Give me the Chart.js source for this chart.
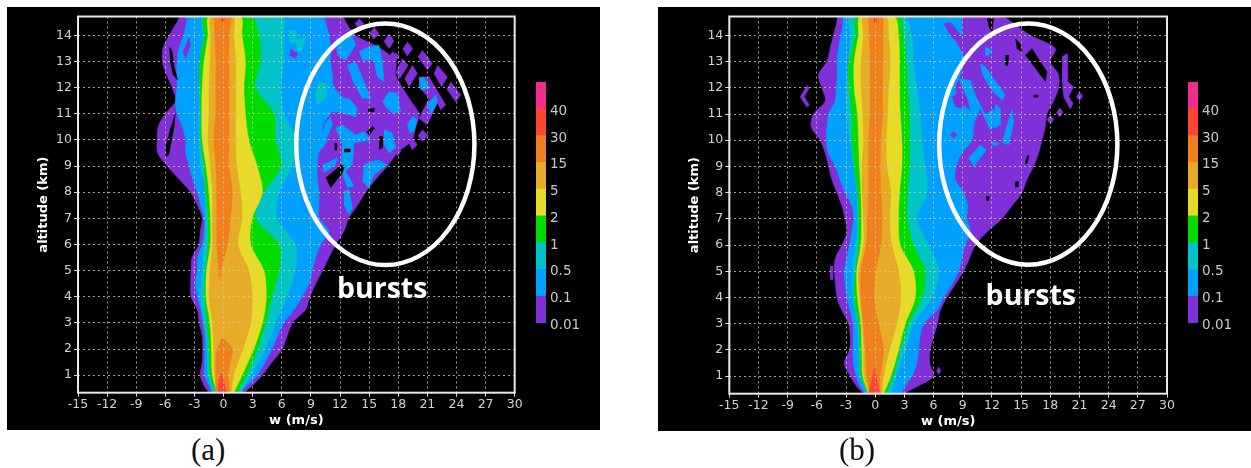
<!DOCTYPE html>
<html>
<head>
<meta charset="utf-8">
<script src="https://cdn.jsdelivr.net/npm/chart.js@4"></script>
<style>
  html, body { margin: 0; background: #fff; width: 1251px; height: 468px; overflow: hidden; }
  canvas { position: absolute; filter: blur(0.4px); }
  #panelA, #panelB { background: #000; }
  .caption { position: absolute; top: 432px; font: 31px/36px "Liberation Serif", serif; color: #111; }
</style>
</head>
<body>
<canvas id="panelA" width="593" height="423" style="left:7px;top:7px"></canvas>
<canvas id="panelB" width="593" height="424" style="left:658px;top:7px"></canvas>
<canvas id="keyA" width="60" height="265" style="left:536px;top:70px"></canvas>
<canvas id="keyB" width="60" height="265" style="left:1188px;top:70px"></canvas>
<div class="caption" style="left:191px">(a)</div>
<div class="caption" style="left:839px">(b)</div>
<script>
const xTicksStep = 3;
const altTicks = [1, 2, 3, 4, 5, 6, 7, 8, 9, 10, 11, 12, 13, 14];
const keyLabels = ['0.01', '0.1', '0.5', '1', '2', '5', '15', '30', '40'];
const keyColors = ['#7f30d8', '#00a0ff', '#00c4c8', '#00dc00', '#e6dc28', '#e6ac28', '#f0801e', '#fa4632', '#f02d8c'];
const [purple, blue, teal, green, yellow, amber, orange, red] = keyColors;

// altitude rows (km) for the outer bands and for the inner bands
const outerAlts = [0.33, 0.6, 1, 1.5, 2, 2.5, 3, 3.5, 4, 4.5, 5, 5.5, 6, 6.5, 7, 7.5, 8, 8.5, 9, 9.5, 10, 10.5, 11, 11.5, 12, 12.5, 13, 13.5, 14, 14.5, 14.72];
const coreAlts = [0.33, 1, 2, 3, 4, 5, 6, 7, 8, 9, 10, 11, 12, 13, 14, 14.72];

// panel (a) band edges, m/s
const aPurpleLeft = [-1.5, -2, -2.4, -2.2, -2.15, -2.2, -2.5, -2.7, -3.35, -3.4, -3.35, -3.25, -2.55, -2.4, -2.2, -2.7, -3.4, -4.6, -5.8, -6.8, -6.85, -6.75, -6, -4.95, -5.3, -5.9, -6.3, -6.25, -5.6, -4.8, -4.4];
const aPurpleRight = [2.1, 2.95, 4, 5, 6.05, 6.55, 7.1, 8.45, 8.9, 9.5, 10.2, 10.85, 11.55, 12.4, 12.9, 13.8, 14.65, 15.7, 16.9, 17.9, 19.45, 19.8, 20.14, 19.28, 18.42, 17.74, 17.74, 16.19, 13.61, 12.6, 12.24];
const aBlueLeft = [-1.15, -1.5, -1.95, -1.95, -1.95, -1.95, -2.15, -2.35, -2.7, -2.9, -2.7, -2.7, -2.2, -2, -2, -2.35, -2.7, -3.2, -3.55, -3.9, -3.9, -4.25, -4.8, -4.95, -4.8, -4.8, -4.8, -4.6, -4.1, -3.8, -3.75];
const aBlueRight = [1.6, 2.4, 3.5, 4.3, 5, 5.55, 6.2, 7.25, 8.1, 8.8, 9.14, 9.49, 10, 10.86, 9.83, 9.83, 9.83, 9.66, 9.66, 9.83, 10.69, 10.18, 11.03, 12.41, 11.38, 11.2, 11.03, 11.03, 10.86, 10.5, 10.35];
const aTealLeft = [-1, -1.6, -1.7, -1.95, -2.35, -2.2, -1.95, -1.85, -1.9, -2.35, -2.55, -2.55, -2.5, -2.35, -2.1, -2];
const aTealRight = [1.8, 2.8, 4.3, 5.35, 6.55, 7.4, 7.4, 5.5, 5.7, 7.1, 7.5, 6.2, 5.9, 6.2, 6.2, 6];
const aGreenLeft = [-0.8, -1.4, -1.5, -1.7, -1.95, -1.85, -1.6, -1.6, -1.85, -2, -2.35, -2.35, -2.45, -2.45, -2, -1.95];
const aGreenRight = [1.4, 2.35, 3.5, 4.35, 5, 5.7, 5.7, 3.3, 4.15, 5.9, 5.35, 5.2, 3.3, 3.8, 3.65, 2.8];
const aYellowLeft = [-0.65, -1.15, -1.25, -1.4, -1.8, -1.75, -1.35, -1.35, -1.5, -1.8, -2.2, -2.25, -2.2, -2, -1.6, -1.5];
const aYellowRight = [1.05, 1.9, 3.1, 4, 4.4, 4.15, 2.8, 2.95, 4, 3.45, 2.6, 2.25, 2.1, 2.25, 1.9, 1.75];
const aAmberLeft = [-0.6, -0.95, -1, -1.15, -1.5, -1.4, -1.15, -1.15, -1.15, -1.35, -1.6, -1.5, -1.5, -1.4, -1.35, -1.25];
const aAmberRight = [0.8, 1.05, 2, 2.8, 2.95, 2.6, 1.5, 1.9, 1.75, 1.35, 1.25, 1.25, 1.25, 1.25, 1.05, 1];
const aOrangeUpAlts = [4.75, 5, 6, 7, 8, 9, 10, 11, 12, 13, 14, 14.72];
const aOrangeUpLeft = [-0.45, -0.5, -0.7, -0.7, -0.7, -0.8, -1, -0.8, -0.8, -0.8, -0.9, -0.8];
const aOrangeUpRight = [-0.35, -0.3, 0.4, 0.7, 0.9, 0.55, 0.55, 0.55, 0.55, 0.55, 0.55, 0.7];
const aOrangeLowAlts = [0.33, 1, 1.5, 2, 2.4];
const aOrangeLowLeft = [-0.8, -0.8, -0.8, -0.65, -0.15];
const aOrangeLowRight = [0.65, 0.5, 0.7, 0.9, -0.05];
const aRedLowAlts = [0.33, 0.6, 1.05];
const aRedLowLeft = [-0.58, -0.55, -0.3];
const aRedLowRight = [0.3, 0.15, -0.25];
const aRedTopAlts = [14.5, 14.72];
const aRedTopLeft = [-0.15, -0.15];
const aRedTopRight = [0.05, 0.05];

// panel (a) burst patches, [m/s, km] outlines
const aTealSpots = [
  [[6.74, 14.19], [7.43, 14.19], [7.6, 13.75], [6.91, 13.68]],
  [[7.43, 13.81], [8.46, 13.94], [8.11, 13.43], [7.6, 13.43]],
  [[9.83, 12.22], [10.69, 12.1], [10.52, 11.59], [9.66, 11.34], [9.49, 11.72]]
];
const aPurpleSpots = [
  [[6.91, 13.49], [7.6, 13.3], [7.43, 13.11], [6.84, 13.24]],
  [[-3.57, 13.94], [-3.4, 13.62], [-3.92, 13.11], [-4.19, 13.37]],
  [[13.96, 14.63], [14.47, 14.44], [13.96, 14.23], [13.51, 14.44]],
  [[15.5, 14.32], [16.02, 14.06], [15.5, 13.85], [15.02, 14.06]],
  [[17.05, 14.06], [17.56, 13.78], [17.05, 13.49], [16.53, 13.78]],
  [[18.94, 13.75], [19.49, 13.49], [18.94, 13.21], [18.46, 13.49]],
  [[20.48, 13.43], [21.52, 12.92], [21, 12.67], [20.04, 13.18]],
  [[22.03, 12.86], [23.06, 12.41], [22.48, 12.03], [21.69, 12.54]],
  [[23.41, 12.22], [24.44, 11.72], [23.92, 11.46], [23, 11.95]],
  [[19.45, 12.86], [19.97, 12.54], [19.11, 12.03], [18.66, 12.35]],
  [[20.48, 10.39], [21.07, 10.17], [20.48, 9.94], [20.04, 10.17]],
  [[20.14, 12.41], [21.17, 12.41], [22.89, 11.34], [22.37, 11.15], [22.03, 11.4], [21, 10.58], [20.14, 10.83], [21.17, 11.59], [20.14, 12.03]],
  [[18.42, 13.11], [19.01, 12.86], [18.18, 12.35], [17.74, 12.6]],
  [[17.39, 13.37], [18.08, 13.24], [17.74, 12.99], [17.05, 13.18]],
  [[19.45, 10.07], [19.97, 9.81], [19.45, 9.62], [19.11, 9.88]],
  [[18.08, 9.81], [18.25, 9.56], [17.91, 9.37], [17.63, 9.62]]
];
const aBlueSpots = [
  [[12.75, 12.86], [13.61, 12.99], [14.47, 12.22], [15.16, 11.59], [14.3, 11.59], [13.27, 12.29]],
  [[13.96, 13.37], [14.99, 13.56], [16.02, 13.62], [16.36, 12.99], [16.53, 12.22], [15.85, 12.41], [15.5, 13.05], [14.3, 13.05]],
  [[16.36, 11.46], [17.05, 11.84], [17.91, 11.78], [18.25, 11.08], [17.39, 11.02], [16.7, 11.27]],
  [[18.94, 10.58], [19.45, 10.89], [19.97, 10.77], [19.63, 10.32], [19.11, 10.26]],
  [[21, 11.34], [21.86, 11.72], [22.03, 11.46], [21.34, 10.96]],
  [[20.14, 12.35], [20.66, 12.41], [21.17, 11.97], [20.31, 11.91]],
  [[10.35, 10.58], [11.03, 10.89], [11.21, 10.58], [10.69, 10.13], [10.28, 10.19]],
  [[11.55, 10.45], [12.24, 10.58], [13.61, 10.19], [14.47, 10.32], [15.16, 10], [13.44, 9.88], [13.27, 9.05], [12.58, 8.8], [13.44, 8.23], [12.75, 8.17], [12.07, 8.93], [12.24, 9.81]],
  [[16.53, 10.39], [17.39, 10.26], [17.74, 9.69], [17.05, 9.5], [16.53, 9.81]],
  [[10.18, 9.05], [11.72, 9.31], [11.55, 9.05], [10.35, 8.74]],
  [[14.47, 9.05], [15.85, 9.24], [16.88, 9.05], [15.5, 8.67], [14.99, 8.17], [14.3, 8.42]],
  [[12.41, 8.04], [12.92, 8.1], [13.27, 7.4], [12.92, 7.15], [12.41, 7.53]],
  [[11.03, 11.59], [12.92, 11.59], [13.78, 11.21], [13.61, 10.89], [11.72, 11.08], [11.03, 11.08]],
  [[11.55, 13.87], [13.27, 14], [13.61, 13.62], [12.58, 13.05], [11.72, 13.24]]
];
const aHoles = [
  [[-5.6, 13.55], [-5.3, 13.4], [-5.1, 12.8], [-4.75, 12.3], [-5.2, 12.5], [-5.5, 13]],
  [[-4.95, 11.02], [-5.46, 10.45], [-5.91, 9.81], [-5.91, 9.37], [-5.64, 9.43], [-5.4, 9.94], [-5.05, 10.58]],
  [[10.52, 8.55], [11.55, 8.86], [12.07, 9.05], [12.48, 8.99], [12.24, 8.74], [11.03, 8.17]],
  [[14.88, 11.18], [15.5, 11.21], [15.5, 11.08], [14.88, 11.08]],
  [[14.75, 10.3], [15.33, 10.51], [15.57, 10.45], [14.99, 10.19]],
  [[16.02, 10.13], [16.36, 10.13], [16.36, 9.69], [16.02, 9.62]],
  [[12.41, 9.65], [13.03, 9.65], [13.03, 9.54], [12.41, 9.54]],
  [[11.45, 9.88], [11.65, 9.88], [11.65, 9.62], [11.45, 9.62]]
];

// panel (b) band edges, m/s
const bPurpleLeft = [-1.2, -1.89, -2.57, -3.19, -2.64, -2.57, -2.74, -3.43, -3.94, -4.08, -4.2, -4.1, -3.43, -2.9, -3.09, -3.43, -3.94, -4.46, -4.8, -5.14, -5.66, -6.58, -6.34, -5.14, -5.49, -5.83, -4.97, -4.63, -4.3, -3.95, -3.77];
const bPurpleRight = [2.91, 4.3, 6, 5.6, 5.66, 6, 6.41, 6.69, 7.37, 8.23, 9.09, 9.7, 10.29, 11.49, 13.03, 14.06, 15.09, 15.6, 16.29, 16.8, 17.15, 17.49, 17.66, 18.35, 18.86, 18.86, 18, 18.52, 15.95, 14.06, 13.03];
const bBlueLeft = [-1.03, -1.54, -1.95, -2.23, -2.3, -2.23, -2.3, -2.57, -2.92, -3.09, -3.19, -2.92, -2.64, -2.4, -2.23, -2.4, -3.09, -3.6, -4.12, -4.8, -5.04, -4.97, -4.8, -4.12, -4, -3.88, -3.94, -3.77, -3.53, -3.3, -3.26];
const bBlueRight = [2.74, 3, 3.8, 4.29, 4.46, 4.6, 5, 6.34, 7.03, 7.89, 8.57, 8.92, 9.26, 9.78, 9.43, 9.5, 9.09, 8.23, 8.33, 8.92, 9.95, 10.12, 10.12, 8.57, 8.23, 8.75, 9.09, 9.09, 8.92, 8.92, 8.92];
const bTealLeft = [-0.86, -1.54, -1.71, -1.82, -2.3, -2.3, -1.95, -1.82, -1.89, -2.23, -2.57, -2.91, -2.91, -2.74, -2.57, -2.57];
const bTealRight = [1.61, 2.16, 3.09, 3.94, 5.83, 6.52, 5.49, 4.29, 5.32, 5.14, 4.8, 4.63, 4.29, 3.94, 3.77, 2.91];
const bGreenLeft = [-0.79, -1.44, -1.54, -1.68, -2.16, -2.02, -1.71, -1.68, -1.82, -2.16, -2.4, -2.4, -2.67, -2.67, -2.06, -1.89];
const bGreenRight = [1.13, 1.82, 2.57, 3.43, 4.8, 5.14, 3.94, 3.33, 3.33, 3.53, 3.53, 3.53, 3.33, 3.19, 2.91, 2.4];
const bYellowLeft = [-0.69, -1.27, -1.37, -1.47, -1.82, -1.89, -1.47, -1.41, -1.47, -1.61, -1.71, -1.82, -2.16, -2.16, -1.71, -1.54];
const bYellowRight = [0.86, 1.61, 2.4, 3.09, 4.12, 3.94, 2.57, 2.4, 2.5, 2.74, 2.74, 2.57, 2.5, 2.5, 2.4, 1.95];
const bAmberLeft = [-0.58, -1.13, -1.2, -1.34, -1.61, -1.71, -1.2, -1.2, -1.34, -1.34, -1.2, -1.27, -1.44, -1.44, -1.2, -1.2];
const bAmberRight = [0.69, 0.86, 1.47, 2.23, 2.64, 2.4, 1.71, 1.47, 1.61, 1.2, 1.13, 1.27, 1.37, 1.54, 1.37, 1.13];
const bOrangeLeft = [-0.51, -0.86, -1.03, -1.2, -1.47, -1.47, -0.93, -0.79, -0.69, -0.69, -0.65, -0.51, -0.51, -0.51, -0.58, -0.58];
const bOrangeRight = [0.51, 0.51, 0.86, 0.34, -0.1, 0.07, 0.58, 0.69, 0.58, 0.51, 0.58, 0.76, 0.76, 0.79, 0.79, 0.69];
const bRedLowAlts = [0.33, 0.6, 1, 1.35];
const bRedLowLeft = [-0.75, -0.5, -0.25, -0.05];
const bRedLowRight = [0.45, 0.3, 0.1, -0.05];
const bRedTopAlts = [14.45, 14.72];
const bRedTopLeft = [-0.1, -0.1];
const bRedTopRight = [0.1, 0.1];

// panel (b) burst patches
const bPurpleSpots = [
  [[-7.03, 12.1], [-6.76, 12], [-7.3, 11.66], [-6.76, 11.34], [-7.03, 11.27], [-7.72, 11.66]],
  [[-4.63, 5.2], [-4.36, 5.2], [-4.36, 4.69], [-4.63, 4.69]],
  [[6.3, 1.2], [6.52, 1.35], [6.75, 1.2], [6.52, 1.05]],
  [[7.03, 14.44], [7.72, 14.5], [9.09, 13.87], [9.09, 13.24], [8.4, 13.75], [7.72, 14]],
  [[7.89, 11.66], [8.57, 11.78], [9.09, 11.2], [8.2, 11.3]],
  [[7.72, 10.2], [8.06, 10.32], [8.4, 10.2], [8.06, 10.07]],
  [[19.21, 13.18], [19.72, 13.3], [19.79, 12.23], [20.41, 12.03], [19.89, 11.66], [20.34, 11.4], [20.06, 11.19], [19.38, 11.66], [19.21, 12.23]],
  [[20.99, 11.85], [21.33, 11.68], [20.99, 11.5], [20.68, 11.68]],
  [[18.97, 11.24], [19.31, 11.06], [18.97, 10.89], [18.62, 11.06]],
  [[18, 10.96], [18.35, 10.79], [18, 10.62], [17.66, 10.79]]
];
const bBlueSpots = [
  [[10.8, 12.92], [11.32, 12.8], [13.38, 11.72], [13.03, 11.53], [12, 11.91], [10.98, 12.54]],
  [[11.32, 13.56], [12, 13.43], [11.66, 13.24], [11.32, 13.24]],
  [[8.57, 12.35], [9.77, 12.29], [10.29, 11.72], [11.32, 10.96], [12.18, 11.21], [12.35, 10.58], [11.83, 10.39], [10.8, 11.21], [10.12, 10.64], [9.6, 11.47]],
  [[12.35, 11.4], [12.86, 11.21], [12.86, 10.58], [12.18, 10.45]],
  [[14.06, 11.21], [14.23, 10.7], [13.72, 9.82], [13.03, 9.94]],
  [[9.6, 9.31], [10.8, 9.82], [11.42, 9.63], [10.12, 8.99]],
  [[12, 9.94], [12.69, 9.88], [12.52, 9.79], [12, 9.82]]
];
const bHoles = [
  [[14.4, 13.87], [14.92, 13.68], [15.09, 13.37], [14.58, 13.49]],
  [[15.43, 13.24], [16.12, 13.49], [17.66, 12.61], [17.49, 12.23]],
  [[13.38, 13.24], [13.72, 13.24], [13.62, 12.86], [13.38, 12.86]],
  [[16.29, 11.72], [16.7, 11.72], [16.7, 11.64], [16.29, 11.64]],
  [[15.6, 9.41], [15.81, 9.41], [15.6, 9.1], [15.4, 9.1]],
  [[14.4, 8.42], [14.68, 8.42], [14.68, 8.22], [14.4, 8.22]],
  [[11.42, 7.85], [11.76, 7.85], [11.66, 7.7], [11.42, 7.7]],
  [[11.49, 14.63], [12.18, 14.63], [12, 14.13], [11.66, 14.38]]
];

// closed outline from a left edge and a right edge
function ribbon(alts, left, right) {
  const up = alts.map((y, i) => ({ x: left[i], y: y }));
  const down = alts.map((y, i) => ({ x: right[i], y: y })).reverse();
  return up.concat(down);
}

function patch(points) {
  return points.map(p => ({ x: p[0], y: p[1] }));
}

function shape(color, data, tension = 0) {
  return { data: data, backgroundColor: color, borderColor: color, borderWidth: 0.5, showLine: true, fill: 'shape', pointRadius: 0, tension: tension };
}

function band(color, alts, left, right) {
  return shape(color, ribbon(alts, left, right), 0.3);
}

// frame, ellipse and the "bursts" word sit on top of everything
const panelMarks = {
  id: 'panelMarks',
  afterDraw(chart, args, opts) {
    const { ctx, chartArea: a, scales: { x, y } } = chart;
    ctx.save();
    ctx.strokeStyle = '#e8e8e8';
    ctx.lineWidth = 2;
    ctx.strokeRect(a.left, a.top, a.right - a.left, a.bottom - a.top);
    ctx.strokeStyle = '#fff';
    ctx.lineWidth = 4.5;
    ctx.beginPath();
    ctx.ellipse(x.getPixelForValue(opts.cx), y.getPixelForValue(opts.cy),
      Math.abs(x.getPixelForValue(opts.cx + opts.rx) - x.getPixelForValue(opts.cx)),
      Math.abs(y.getPixelForValue(opts.cy + opts.ry) - y.getPixelForValue(opts.cy)),
      0, 0, Math.PI * 2);
    ctx.stroke();
    ctx.fillStyle = '#fff';
    ctx.font = 'bold 28.5px "Open Sans", sans-serif';
    ctx.textAlign = 'center';
    ctx.textBaseline = 'alphabetic';
    ctx.fillText('bursts', x.getPixelForValue(opts.labelX), y.getPixelForValue(opts.labelY));
    ctx.restore();
  }
};

function drawPanel(id, datasets, marks, box) {
  datasets.forEach((d, i) => { d.order = datasets.length - i; });
  new Chart(document.getElementById(id), {
    type: 'scatter',
    data: { datasets: datasets },
    plugins: [panelMarks],
    options: {
      responsive: false,
      animation: false,
      events: [],
      layout: { padding: { top: box.top, right: box.right, left: 0, bottom: 0 } },
      plugins: { legend: { display: false }, tooltip: { enabled: false }, panelMarks: marks },
      scales: {
        x: {
          min: -15,
          max: 30,
          afterFit(s) { s.height = box.xAxis; },
          ticks: { stepSize: xTicksStep, color: '#d2d2d2', font: { family: 'DejaVu Sans', size: 12.5 }, maxRotation: 0, padding: 1, autoSkip: false, callback: v => String(v) },
          grid: { z: 1, color: 'rgba(205,205,150,0.8)', tickColor: '#ddd', tickLength: 4, tickBorderDash: [] },
          border: { display: false, dash: [2, 3] },
          title: { display: true, text: 'w (m/s)', color: '#fff', font: { family: 'DejaVu Sans', size: 13, weight: 'bold' }, padding: { top: 0, bottom: 2 } }
        },
        y: {
          min: 0.33,
          max: 14.72,
          afterFit(s) { s.width = box.left; },
          afterBuildTicks(s) { s.ticks = altTicks.map(v => ({ value: v })); },
          ticks: { color: '#d2d2d2', font: { family: 'DejaVu Sans', size: 12.5 }, padding: 2, autoSkip: false, callback: v => String(v) },
          grid: { z: 1, color: 'rgba(205,205,150,0.8)', tickColor: '#ddd', tickLength: 4, tickBorderDash: [] },
          border: { display: false, dash: [2, 3] },
          title: { display: true, text: 'altitude (km)', color: '#fff', font: { family: 'DejaVu Sans', size: 13, weight: 'bold' }, padding: { top: 29, bottom: 0 } }
        }
      }
    }
  });
}

// key labels hang a little under each colour boundary, as in the original
const keyLabelDrop = 0.09;

function drawKey(id) {
  new Chart(document.getElementById(id), {
    type: 'bar',
    data: {
      labels: ['key'],
      datasets: keyColors.map(c => ({ data: [1], backgroundColor: c, barPercentage: 1, categoryPercentage: 1 }))
    },
    options: {
      responsive: false,
      animation: false,
      events: [],
      layout: { padding: { top: 7, bottom: 12, left: 0, right: 0 } },
      plugins: { legend: { display: false }, tooltip: { enabled: false } },
      scales: {
        x: { stacked: true, display: false },
        y: {
          stacked: true,
          position: 'right',
          min: 0,
          max: 9,
          afterFit(s) { s.width = 50; },
          afterBuildTicks(s) { s.ticks = keyLabels.map((l, i) => ({ value: i - keyLabelDrop })); },
          ticks: { color: '#c8c8c8', font: { family: 'DejaVu Sans', size: 13.5 }, padding: 4, autoSkip: false, callback: v => keyLabels[Math.round(v + keyLabelDrop)] },
          grid: { display: false, drawTicks: false },
          border: { display: false }
        }
      }
    }
  });
}

const aSets = [
  band(purple, outerAlts, aPurpleLeft, aPurpleRight),
  band(blue, outerAlts, aBlueLeft, aBlueRight),
  ...aPurpleSpots.map(p => shape(purple, patch(p))),
  ...aBlueSpots.map(p => shape(blue, patch(p))),
  ...aHoles.map(p => shape('#000', patch(p))),
  band(teal, coreAlts, aTealLeft, aTealRight),
  ...aTealSpots.map(p => shape(teal, patch(p))),
  band(green, coreAlts, aGreenLeft, aGreenRight),
  band(yellow, coreAlts, aYellowLeft, aYellowRight),
  band(amber, coreAlts, aAmberLeft, aAmberRight),
  band(orange, aOrangeUpAlts, aOrangeUpLeft, aOrangeUpRight),
  band(orange, aOrangeLowAlts, aOrangeLowLeft, aOrangeLowRight),
  band(red, aRedLowAlts, aRedLowLeft, aRedLowRight),
  band(red, aRedTopAlts, aRedTopLeft, aRedTopRight)
];

const bSets = [
  band(purple, outerAlts, bPurpleLeft, bPurpleRight),
  band(blue, outerAlts, bBlueLeft, bBlueRight),
  ...bPurpleSpots.map(p => shape(purple, patch(p))),
  ...bBlueSpots.map(p => shape(blue, patch(p))),
  ...bHoles.map(p => shape('#000', patch(p))),
  band(teal, coreAlts, bTealLeft, bTealRight),
  band(green, coreAlts, bGreenLeft, bGreenRight),
  band(yellow, coreAlts, bYellowLeft, bYellowRight),
  band(amber, coreAlts, bAmberLeft, bAmberRight),
  band(orange, coreAlts, bOrangeLeft, bOrangeRight),
  band(red, bRedLowAlts, bRedLowLeft, bRedLowRight),
  band(red, bRedTopAlts, bRedTopLeft, bRedTopRight)
];

drawPanel('panelA', aSets, { cx: 16.67, cy: 9.83, rx: 9.18, ry: 4.62, labelX: 16.34, labelY: 3.94 },
  { top: 7.5, right: 85.3, left: 71, xAxis: 37.3 });
drawPanel('panelB', bSets, { cx: 15.74, cy: 9.85, rx: 9.16, ry: 4.6, labelX: 16, labelY: 3.73 },
  { top: 7.5, right: 84, left: 71.3, xAxis: 37.3 });
drawKey('keyA');
drawKey('keyB');
</script>
</body>
</html>
